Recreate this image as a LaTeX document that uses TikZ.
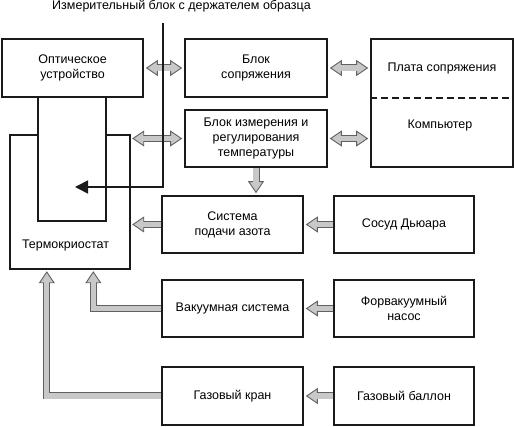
\documentclass[tikz,border=0pt]{standalone}
\usepackage{fontspec}
\setmainfont{Liberation Sans}
\usetikzlibrary{arrows.meta,calc}
\definecolor{gdark}{HTML}{606060}
\definecolor{glight}{HTML}{C8C8C8}
\definecolor{ink}{HTML}{1A1A1A}
\tikzset{
  box/.style={draw=ink, line width=1.6pt, align=center, inner sep=0pt},
  lbl/.style={align=center, inner sep=0pt},
  edge/.style={draw=ink, line width=1.6pt},
  gtipend/.tip={Triangle[length=12pt,width=16pt,fill=glight]},
  gtip/.style={draw=gdark, line width=0.9pt},
  gshaft/.style={draw=gdark, line width=7pt},
  ginner/.style={draw=glight, line width=5.2pt},
}
\newcommand\garrowone[1]{%
  \draw[gtip,-gtipend,shorten >=2pt] #1;
  \draw[gshaft,shorten >=14pt] #1;
  \draw[ginner,shorten >=12.5pt] #1;}
\newcommand\garrowtwo[1]{%
  \draw[gtip,gtipend-gtipend,shorten >=2pt,shorten <=2pt] #1;
  \draw[gshaft,shorten >=14pt,shorten <=14pt] #1;
  \draw[ginner,shorten >=12.5pt,shorten <=12.5pt] #1;}
\begin{document}
\begin{tikzpicture}[x=1pt,y=-1pt,font=\fontsize{12.5}{15}\selectfont]
\useasboundingbox (0,0) rectangle (514,427);
% boxes
\node[box, minimum width=141pt, minimum height=58pt] (opt) at (72.5,68) {Оптическое\\устройство};
\node[box, minimum width=142pt, minimum height=58pt] (bs) at (256,68) {Блок\\сопряжения};
\node[box, minimum width=142pt, minimum height=57pt] (bi) at (256,138.5) {Блок измерения и\\регулирования\\температуры};
\node[box, minimum width=142pt, minimum height=128pt] (pc) at (442,103) {};
\node[lbl] (plata) at (442,69) {Плата сопряжения};
\node[lbl] (komp) at (440,126) {Компьютер};
\draw[edge, dash pattern=on 7pt off 4pt] (pc.west |- opt.south) -- (pc.east |- opt.south);
\node[inner sep=0pt, minimum width=120pt, minimum height=134pt] (termo) at (70,202) {};
\node[inner sep=0pt, minimum width=68pt, minimum height=124pt] (holder) at (72,159) {};
\draw[edge] (termo.north west -| holder.west) -- (termo.north west) -- (termo.south west) -- (termo.south east) -- (termo.north east) -- (termo.north east -| holder.east);
\draw[edge] (holder.north west) -- (holder.south west) -- (holder.south east) -- (holder.north east);
\node[lbl] (termolbl) at (65.5,245) {Термокриостат};
\node[box, minimum width=141pt, minimum height=57pt] (sp) at (232.5,224.5) {Система\\подачи азота};
\node[box, minimum width=140pt, minimum height=57pt] (dw) at (404,224.5) {Сосуд Дьюара};
\node[box, minimum width=141pt, minimum height=57pt] (vak) at (232.5,308.5) {Вакуумная система};
\node[box, minimum width=140pt, minimum height=57pt] (fv) at (404,308.5) {Форвакуумный\\насос};
\node[box, minimum width=141pt, minimum height=58pt] (gk) at (232.5,396) {Газовый кран};
\node[box, minimum width=140pt, minimum height=58pt] (gb) at (404,396) {Газовый баллон};
\coordinate (tv) at ($(termo.south west)+(83.5,0)$);
\coordinate (tg) at ($(termo.south west)+(37,0)$);
% grey arrows
\garrowtwo{(opt.east) -- (bs.west)}
\garrowtwo{(bs.east) -- (bs.east -| pc.west)}
\garrowtwo{(bi.west -| termo.east) -- (bi.west)}
\garrowtwo{(bi.east) -- (bi.east -| pc.west)}
\garrowone{(bi.south) -- (bi.south |- sp.north)}
\garrowone{(sp.west) -- (sp.west -| termo.east)}
\garrowone{(dw.west) -- (sp.east)}
\garrowone{(fv.west) -- (vak.east)}
\garrowone{(gb.west) -- (gk.east)}
\garrowone{(vak.west) -| (tv)}
\garrowone{(gk.west) -| (tg)}
% measuring block
\node[lbl] (title) at (181.5,6.5) {Измерительный блок с держателем образца};
\coordinate (mtop) at (163,23);
\coordinate (mtip) at (75,187);
\draw[edge, -{Triangle[length=13pt,width=13pt]}] (mtop) |- (mtip);
\end{tikzpicture}
\end{document}
